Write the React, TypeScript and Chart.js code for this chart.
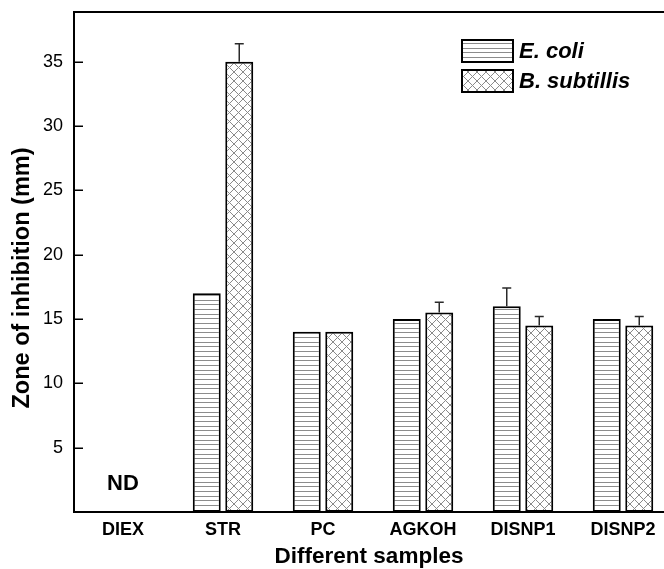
import React, { useEffect, useRef } from 'react';
import { Chart, registerables } from 'chart.js';

Chart.register(...registerables);

const categories = ['DIEX', 'STR', 'PC', 'AGKOH', 'DISNP1', 'DISNP2'];
const seriesNames = ['E. coli', 'B. subtillis'];
const ecoliValues = [null, 17, 14, 15, 16, 15];
const ecoliErrors = [0, 0, 0, 0, 1.4, 0];
const bsubValues = [null, 35, 14, 15.5, 14.5, 14.5];
const bsubErrors = [0, 1.4, 0, 0.8, 0.7, 0.7];
const yTicks = [5, 10, 15, 20, 25, 30, 35];
const xTitle = 'Different samples';
const yTitle = 'Zone of inhibition (mm)';
const ndLabel = 'ND';
const ndCategory = 0;
const ndLevel = 2.2;

const FONT = "'Liberation Sans', Arial, Helvetica, sans-serif";

function makeHLinePattern(ctx: CanvasRenderingContext2D): CanvasPattern {
  const t = document.createElement('canvas');
  t.width = 8;
  t.height = 14;
  const c = t.getContext('2d')!;
  c.fillStyle = '#ffffff';
  c.fillRect(0, 0, 8, 14);
  c.fillStyle = '#8c8c8c';
  c.fillRect(0, 1, 8, 1);
  c.fillRect(0, 6, 8, 1);
  c.fillRect(0, 10, 8, 1);
  return ctx.createPattern(t, 'repeat')!;
}

function makeCrossPattern(ctx: CanvasRenderingContext2D): CanvasPattern {
  const s = 9;
  const t = document.createElement('canvas');
  t.width = s;
  t.height = s;
  const c = t.getContext('2d')!;
  c.fillStyle = '#ffffff';
  c.fillRect(0, 0, s, s);
  c.strokeStyle = '#8a8a8a';
  c.lineWidth = 1;
  c.beginPath();
  c.moveTo(-1, -1);
  c.lineTo(s + 1, s + 1);
  c.moveTo(s + 1, -1);
  c.lineTo(-1, s + 1);
  c.stroke();
  return ctx.createPattern(t, 'repeat')!;
}

export default function App() {
  const ref = useRef<HTMLCanvasElement | null>(null);

  useEffect(() => {
    const canvas = ref.current;
    if (!canvas) return;
    const ctx = canvas.getContext('2d')!;
    const hPat = makeHLinePattern(ctx);
    const xPat = makeCrossPattern(ctx);
    const errors = [ecoliErrors, bsubErrors];

    const decor = {
      id: 'decor',
      afterDatasetsDraw(chart: any) {
        const c = chart.ctx;
        const ys = chart.scales.y;
        const xs = chart.scales.x;
        c.save();
        // error bars
        c.strokeStyle = '#2a2a2a';
        c.lineWidth = 1.5;
        chart.data.datasets.forEach((ds: any, d: number) => {
          const meta = chart.getDatasetMeta(d);
          ds.data.forEach((pt: any, i: number) => {
            const e = errors[d][i];
            if (pt.y == null || !e) return;
            const el = meta.data[i];
            const yTop = ys.getPixelForValue(pt.y + e);
            c.beginPath();
            c.moveTo(el.x, el.y);
            c.lineTo(el.x, yTop);
            c.moveTo(el.x - 4.5, yTop);
            c.lineTo(el.x + 4.5, yTop);
            c.stroke();
          });
        });
        // ND label
        c.fillStyle = '#000';
        c.font = `bold 22px ${FONT}`;
        c.textAlign = 'center';
        c.textBaseline = 'middle';
        c.fillText(ndLabel, xs.getPixelForValue(ndCategory + 1), ys.getPixelForValue(ndLevel));
        c.restore();
      },
      afterDraw(chart: any) {
        const c = chart.ctx;
        const a = chart.chartArea;
        const ys = chart.scales.y;
        c.save();
        // top frame
        c.strokeStyle = '#000';
        c.lineWidth = 2;
        c.beginPath();
        c.moveTo(a.left - 1, a.top);
        c.lineTo(chart.width, a.top);
        c.stroke();
        // inward y ticks
        c.lineWidth = 1.5;
        ys.ticks.forEach((t: any) => {
          const y = Math.round(ys.getPixelForValue(t.value)) + 0.25;
          c.beginPath();
          c.moveTo(a.left, y);
          c.lineTo(a.left + 9, y);
          c.stroke();
        });
        // y title
        c.save();
        c.translate(22.5, 278);
        c.rotate(-Math.PI / 2);
        c.fillStyle = '#000';
        c.font = `bold 23.5px ${FONT}`;
        c.textAlign = 'center';
        c.textBaseline = 'middle';
        c.fillText(yTitle, 0, 0);
        c.restore();
        // legend
        const lx = 462;
        const ly = 40;
        chart.data.datasets.forEach((ds: any, i: number) => {
          const y = ly + i * 30;
          c.fillStyle = ds.backgroundColor;
          c.fillRect(lx, y, 51, 22);
          c.strokeStyle = '#000';
          c.lineWidth = 2;
          c.strokeRect(lx, y, 51, 22);
          c.fillStyle = '#000';
          c.font = `italic bold 22px ${FONT}`;
          c.textAlign = 'left';
          c.textBaseline = 'middle';
          c.fillText(ds.label, lx + 57, y + 12);
        });
        c.restore();
      },
    };

    const chart = new Chart(canvas, {
      type: 'bar',
      data: {
        datasets: [
          {
            label: seriesNames[0],
            data: ecoliValues.map((v, i) => ({ x: i + 1, y: v })),
            backgroundColor: hPat as any,
            borderColor: '#000',
            borderWidth: 2,
            borderSkipped: false,
            categoryPercentage: 0.65,
            barPercentage: 0.86,
          },
          {
            label: seriesNames[1],
            data: bsubValues.map((v, i) => ({ x: i + 1, y: v })),
            backgroundColor: xPat as any,
            borderColor: '#000',
            borderWidth: 2,
            borderSkipped: false,
            categoryPercentage: 0.65,
            barPercentage: 0.86,
          },
        ] as any,
      },
      options: {
        animation: false,
        responsive: false,
        devicePixelRatio: 1,
        layout: { padding: { top: 12, left: 0, right: 0, bottom: 0 } },
        plugins: {
          legend: { display: false },
          tooltip: { enabled: false },
        },
        scales: {
          x: {
            type: 'linear',
            offset: false,
            min: 0.51,
            max: 6.41,
            z: 1,
            afterBuildTicks: (s: any) => {
              s.ticks = categories.map((_, i) => ({ value: i + 1 }));
            },
            afterFit: (s: any) => {
              s.height = 57;
              s.paddingLeft = 0;
              s.paddingRight = 0;
            },
            grid: { display: false, drawTicks: false, offset: false },
            border: { display: true, color: '#000', width: 2 },
            ticks: {
              autoSkip: false,
              maxRotation: 0,
              padding: 7,
              color: '#000',
              font: { family: FONT, size: 18, weight: 'bold' },
              callback: (v: any) => categories[Math.round(Number(v)) - 1] ?? '',
            },
            title: {
              display: true,
              text: xTitle,
              color: '#000',
              font: { family: FONT, size: 22.5, weight: 'bold' },
              padding: { top: 0, bottom: -1.5 },
            },
          },
          y: {
            type: 'linear',
            min: 0,
            max: 38.86,
            z: 1,
            afterBuildTicks: (s: any) => {
              s.ticks = yTicks.map((v) => ({ value: v }));
            },
            afterFit: (s: any) => {
              s.width = 74;
              s.paddingTop = 0;
              s.paddingBottom = 0;
            },
            grid: { display: false, drawTicks: false },
            border: { display: true, color: '#000', width: 2 },
            ticks: {
              padding: 11,
              color: '#000',
              font: { family: FONT, size: 18 },
            },
            title: { display: false },
          },
        },
      },
      plugins: [decor],
    } as any);

    return () => chart.destroy();
  }, []);

  return (
    <div style={{ position: 'absolute', left: 0, top: 0, width: 664, height: 569, background: '#fff' }}>
      <canvas ref={ref} width={664} height={569} style={{ display: 'block' }} />
    </div>
  );
}
